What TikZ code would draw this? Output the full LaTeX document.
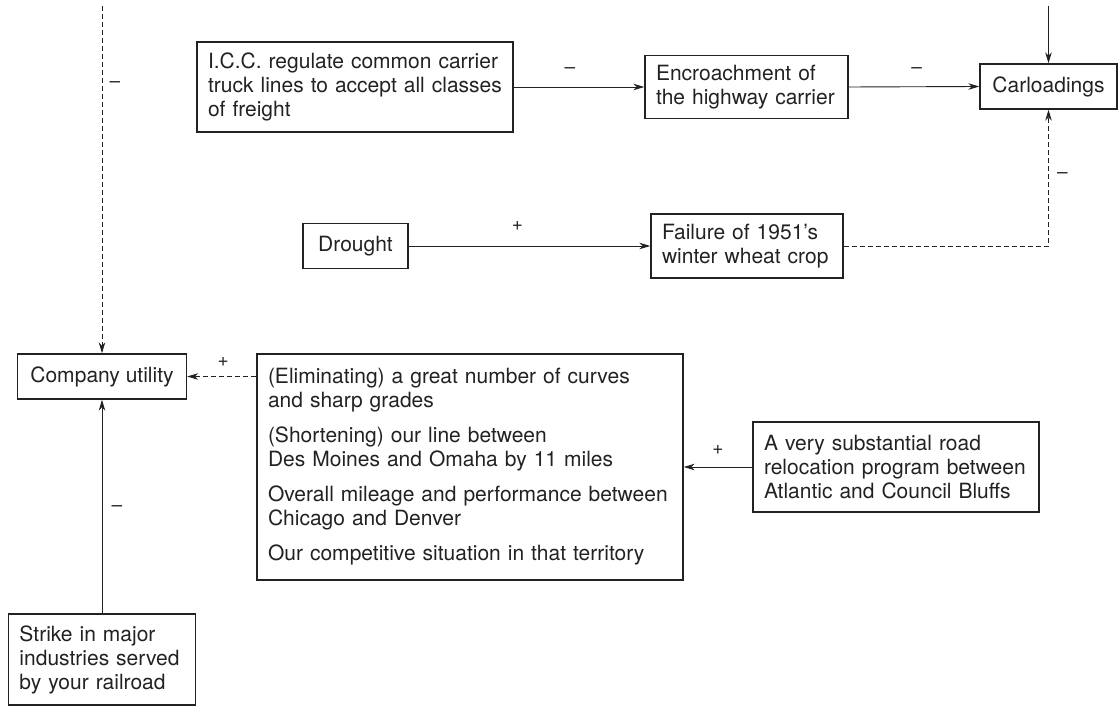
\documentclass[tikz,border=0pt]{standalone}
\usepackage{fontspec}
\setmainfont{TeX Gyre Heros}
\usetikzlibrary{arrows.meta}
\definecolor{ink}{HTML}{222222}
\begin{document}
\begin{tikzpicture}[x=1pt,y=-1pt,
  box/.style={draw=ink, line width=1.4pt, text=ink, inner xsep=11pt, inner ysep=0pt,
    font=\fontsize{21}{24}\selectfont, align=left},
  wbox/.style 2 args={box, text width=#1pt-22pt, minimum height=#2pt},
  cbox/.style 2 args={box, align=center, minimum width=#1pt, minimum height=#2pt},
  link/.style={draw=ink, line width=0.9pt, -{Stealth[length=11pt,width=6.5pt,inset=3.5pt]}},
  dashlink/.style={link, dash pattern=on 5pt off 3pt},
  sign/.style={text=ink, font=\fontsize{19}{22}\selectfont, inner sep=0pt, anchor=center}]

\useasboundingbox (0,0) rectangle (1119,708);

% boxes
\node[wbox={316}{90}] (icc) at (355,87)
  {I.C.C. regulate common carrier\\truck lines to accept all classes\\of freight};
\node[wbox={203}{63}] (enc) at (746.5,87)
  {Encroachment of\\the highway carrier};
\node[cbox={137}{45}] (carl) at (1048.5,86.5) {Carloadings};
\node[cbox={105}{45}] (drought) at (355.5,246) {Drought};
\node[wbox={192}{64}] (fail) at (747,246)
  {Failure of 1951’s\\winter wheat crop};
\node[cbox={169}{45}] (comp) at (102,376.5) {Company utility};
\node[wbox={426}{226}] (big) at (470,467)
  {(Eliminating) a great number of curves\\and sharp grades\\[11pt]
   (Shortening) our line between\\Des Moines and Omaha by 11 miles\\[11pt]
   Overall mileage and performance between\\Chicago and Denver\\[11pt]
   Our competitive situation in that territory};
\node[wbox={286}{90}] (avery) at (896,467)
  {A very substantial road\\relocation program between\\Atlantic and Council Bluffs};
\node[wbox={187}{91}] (strike) at (102,659.5)
  {Strike in major\\industries served\\by your railroad};

% free ends entering from the top edge
\coordinate (topleft) at (102,6);
\coordinate (topright) at (1048.5,6);

% connectors with their signs
\draw[dashlink] (topleft) -- node[sign, pos=0.227, xshift=13pt] {–} (comp.north);
\draw[link] (icc.east) -- node[sign, pos=0.43, yshift=16pt] {–} (enc.west);
\draw[link] (enc.east) -- node[sign, pos=0.52, yshift=16pt] {–} (carl.west);
\draw[link] (topright) -- (carl.north);
\draw[link] (drought.east) -- node[sign, pos=0.45, yshift=20pt] {+} (fail.west);
\draw[dashlink] (fail.east) -| node[sign, pos=0.76, xshift=14pt] {–} (carl.south);
\draw[dashlink] (big.west |- comp.east) -- node[sign, pos=0.48, yshift=15pt] {+} (comp.east);
\draw[link] (avery.west) -- node[sign, pos=0.5, yshift=17pt] {+} (avery.west -| big.east);
\draw[link] (strike.north) -- node[sign, pos=0.49, xshift=15pt] {–} (comp.south);
\end{tikzpicture}
\end{document}
